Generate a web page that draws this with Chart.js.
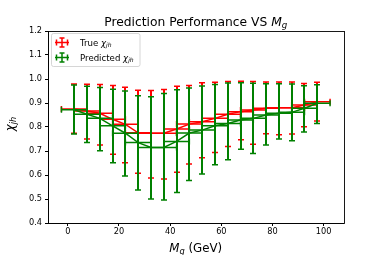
<!DOCTYPE html>
<html>
<head>
<meta charset="utf-8">
<script src="https://cdn.jsdelivr.net/npm/chart.js@4.4.0/dist/chart.umd.min.js"></script>
<style>
  html, body { margin: 0; padding: 0; background: #fff; }
  #wrap { width: 382px; height: 255px; }
</style>
</head>
<body>
<div id="wrap"><canvas id="grafica"></canvas></div>
<script>
// bin centres in M_g (GeV), each bin drawn with +-5 horizontal error
const massBins = [2.5, 7.5, 12.5, 17.5, 22.5, 27.5, 32.5, 37.5, 42.5, 47.5,
                  52.5, 57.5, 62.5, 67.5, 72.5, 77.5, 82.5, 87.5, 92.5, 97.5];
const binHalfWidth = 5;

const trueChi  = [0.875, 0.867, 0.857, 0.832, 0.811, 0.776, 0.774, 0.774, 0.792, 0.812,
                  0.822, 0.836, 0.853, 0.864, 0.871, 0.878, 0.880, 0.880, 0.892, 0.905];
const trueLow  = [0.774, 0.750, 0.725, 0.686, 0.651, 0.607, 0.588, 0.583, 0.611, 0.646,
                  0.672, 0.694, 0.719, 0.747, 0.728, 0.772, 0.768, 0.771, 0.801, 0.825];
const trueHigh = [0.979, 0.978, 0.977, 0.973, 0.966, 0.953, 0.952, 0.956, 0.970, 0.973,
                  0.984, 0.986, 0.990, 0.991, 0.990, 0.988, 0.988, 0.987, 0.981, 0.986];

const predChi  = [0.872, 0.853, 0.836, 0.805, 0.774, 0.735, 0.715, 0.715, 0.740, 0.775,
                  0.787, 0.805, 0.815, 0.829, 0.836, 0.850, 0.857, 0.861, 0.878, 0.899];
const predLow  = [0.771, 0.735, 0.701, 0.651, 0.596, 0.537, 0.500, 0.496, 0.527, 0.577,
                  0.604, 0.643, 0.664, 0.707, 0.690, 0.725, 0.750, 0.743, 0.779, 0.815];
const predHigh = [0.975, 0.970, 0.965, 0.957, 0.950, 0.930, 0.926, 0.940, 0.955, 0.963,
                  0.971, 0.977, 0.983, 0.984, 0.982, 0.980, 0.980, 0.979, 0.972, 0.976];

const xTicks = [0, 20, 40, 60, 80, 100];
const yTicks = [0.4, 0.5, 0.6, 0.7, 0.8, 0.9, 1.0, 1.1, 1.2];

const FONT = "'DejaVu Sans'";

// text pieces: {t, it (italic), sub (subscript)}
function mathWidth(ctx, parts, size) {
  let w = 0;
  parts.forEach(p => {
    const s = p.sub ? size * 0.7 : size;
    ctx.font = (p.it ? 'italic ' : '') + s + 'px ' + FONT;
    w += ctx.measureText(p.t).width;
  });
  return w;
}
function drawMath(ctx, parts, x, y, size) {
  parts.forEach(p => {
    const s = p.sub ? size * 0.7 : size;
    ctx.font = (p.it ? 'italic ' : '') + s + 'px ' + FONT;
    ctx.fillText(p.t, x, p.sub ? y + size * 0.22 : y);
    x += ctx.measureText(p.t).width;
  });
}

function pts(ys) {
  return massBins.map((m, i) => ({ x: m, y: ys[i] }));
}

const errorBars = {
  id: 'errorBars',
  afterDatasetDraw(chart, args) {
    const ds = chart.data.datasets[args.index];
    const xs = chart.scales.x, ys = chart.scales.y;
    const ctx = chart.ctx;
    const cap = 3;
    ctx.save();
    ctx.strokeStyle = ds.borderColor;
    // horizontal bars and their end caps
    ctx.lineWidth = 1.5;
    ctx.beginPath();
    ds.data.forEach((p, i) => {
      const py = ys.getPixelForValue(p.y);
      const x0 = xs.getPixelForValue(p.x - binHalfWidth);
      const x1 = xs.getPixelForValue(p.x + binHalfWidth);
      ctx.moveTo(x0, py); ctx.lineTo(x1, py);
      ctx.moveTo(x0, py - cap); ctx.lineTo(x0, py + cap);
      ctx.moveTo(x1, py - cap); ctx.lineTo(x1, py + cap);
    });
    ctx.stroke();
    // vertical bars, snapped so the later series covers the earlier one
    ctx.lineWidth = 2;
    ctx.beginPath();
    ds.data.forEach((p, i) => {
      const px = Math.round(xs.getPixelForValue(p.x));
      const yl = ys.getPixelForValue(ds.errLow[i]);
      const yh = ys.getPixelForValue(ds.errHigh[i]);
      ctx.moveTo(px, yl); ctx.lineTo(px, yh);
    });
    ctx.stroke();
    ctx.lineWidth = 1.5;
    ctx.beginPath();
    ds.data.forEach((p, i) => {
      const px = Math.round(xs.getPixelForValue(p.x));
      const yl = ys.getPixelForValue(ds.errLow[i]);
      const yh = ys.getPixelForValue(ds.errHigh[i]);
      ctx.moveTo(px - cap, yl); ctx.lineTo(px + cap, yl);
      ctx.moveTo(px - cap, yh); ctx.lineTo(px + cap, yh);
    });
    ctx.stroke();
    ctx.restore();
  },
  afterDraw(chart) {
    const ctx = chart.ctx;
    const a = chart.chartArea;
    ctx.save();
    // frame
    ctx.strokeStyle = '#000';
    ctx.lineWidth = 0.9;
    ctx.strokeRect(Math.round(a.left) + 0.5, Math.round(a.top) + 0.5,
                   Math.round(a.right - a.left), Math.round(a.bottom - a.top));

    ctx.fillStyle = '#000';
    ctx.textBaseline = 'alphabetic';
    const cx = (a.left + a.right) / 2;

    // title
    const title = [{ t: 'Prediction Performance VS ' }, { t: 'M', it: true }, { t: 'g', it: true, sub: true }];
    let w = mathWidth(ctx, title, 12.3);
    drawMath(ctx, title, cx - w / 2, 25.5, 12.3);

    // x label
    const xl = [{ t: 'M', it: true }, { t: 'g', it: true, sub: true }, { t: ' (GeV)' }];
    w = mathWidth(ctx, xl, 11.8);
    drawMath(ctx, xl, cx - w / 2, 251.5, 11.8);

    // y label
    const yl = [{ t: 'χ', it: true }, { t: 'jh', it: true, sub: true }];
    ctx.save();
    ctx.translate(13.5, 124);
    ctx.rotate(-Math.PI / 2);
    w = mathWidth(ctx, yl, 11.8);
    drawMath(ctx, yl, -w / 2, 0, 11.8);
    ctx.restore();

    // legend
    const lx = 51.5, ly = 33.5, lw = 88.5, lh = 33;
    ctx.fillStyle = 'rgba(255,255,255,0.8)';
    ctx.strokeStyle = '#cccccc';
    ctx.lineWidth = 0.8;
    ctx.beginPath();
    ctx.roundRect(lx, ly, lw, lh, 2);
    ctx.fill();
    ctx.stroke();
    chart.data.datasets.forEach((ds, i) => {
      const gy = ly + 9 + i * 15;
      const gx = 62;
      ctx.strokeStyle = ds.borderColor;
      ctx.lineWidth = 1.5;
      ctx.beginPath();
      ctx.moveTo(gx - 7, gy); ctx.lineTo(gx + 7, gy);
      ctx.moveTo(gx - 5.5, gy - 3); ctx.lineTo(gx - 5.5, gy + 3);
      ctx.moveTo(gx + 5.5, gy - 3); ctx.lineTo(gx + 5.5, gy + 3);
      ctx.moveTo(gx, gy - 4.5); ctx.lineTo(gx, gy + 4.5);
      ctx.moveTo(gx - 2.5, gy - 4.5); ctx.lineTo(gx + 2.5, gy - 4.5);
      ctx.moveTo(gx - 2.5, gy + 4.5); ctx.lineTo(gx + 2.5, gy + 4.5);
      ctx.stroke();
      ctx.fillStyle = '#000';
      drawMath(ctx, [{ t: ds.label + ' ' }, { t: 'χ', it: true }, { t: 'jh', it: true, sub: true }],
               80, gy + 3, 8.6);
    });
    ctx.restore();
  }
};

new Chart(document.getElementById('grafica'), {
  type: 'scatter',
  data: {
    datasets: [{
      label: 'True',
      data: pts(trueChi),
      errLow: trueLow,
      errHigh: trueHigh,
      showLine: true,
      borderColor: '#ff0000',
      backgroundColor: '#ff0000',
      borderWidth: 1.5,
      pointRadius: 0,
      order: 2
    }, {
      label: 'Predicted',
      data: pts(predChi),
      errLow: predLow,
      errHigh: predHigh,
      showLine: true,
      borderColor: '#008000',
      backgroundColor: '#008000',
      borderWidth: 1.5,
      pointRadius: 0,
      order: 1
    }]
  },
  options: {
    responsive: true,
    maintainAspectRatio: false,
    animation: false,
    devicePixelRatio: 1,
    layout: { padding: { left: 0, right: 38.5, top: 31, bottom: 0 } },
    plugins: {
      legend: { display: false },
      title: { display: false },
      tooltip: { enabled: false }
    },
    scales: {
      x: {
        type: 'linear',
        min: -7.75,
        max: 107.75,
        afterBuildTicks: s => { s.ticks = xTicks.map(v => ({ value: v })); },
        afterFit: s => { s.height = 32; },
        ticks: { color: '#000', font: { family: FONT, size: 8.2 }, padding: 1, maxRotation: 0 },
        grid: { drawOnChartArea: false, drawTicks: true, tickLength: 3, color: '#000' },
        border: { display: true, color: '#000', width: 0.9 }
      },
      y: {
        min: 0.4,
        max: 1.2,
        afterBuildTicks: s => { s.ticks = yTicks.map(v => ({ value: v })); },
        afterFit: s => { s.width = 48; },
        ticks: { color: '#000', font: { family: FONT, size: 8.2 }, padding: 3, callback: v => v.toFixed(1) },
        grid: { drawOnChartArea: false, drawTicks: true, tickLength: 3, color: '#000' },
        border: { display: true, color: '#000', width: 0.9 }
      }
    }
  },
  plugins: [errorBars]
});
</script>
</body>
</html>
